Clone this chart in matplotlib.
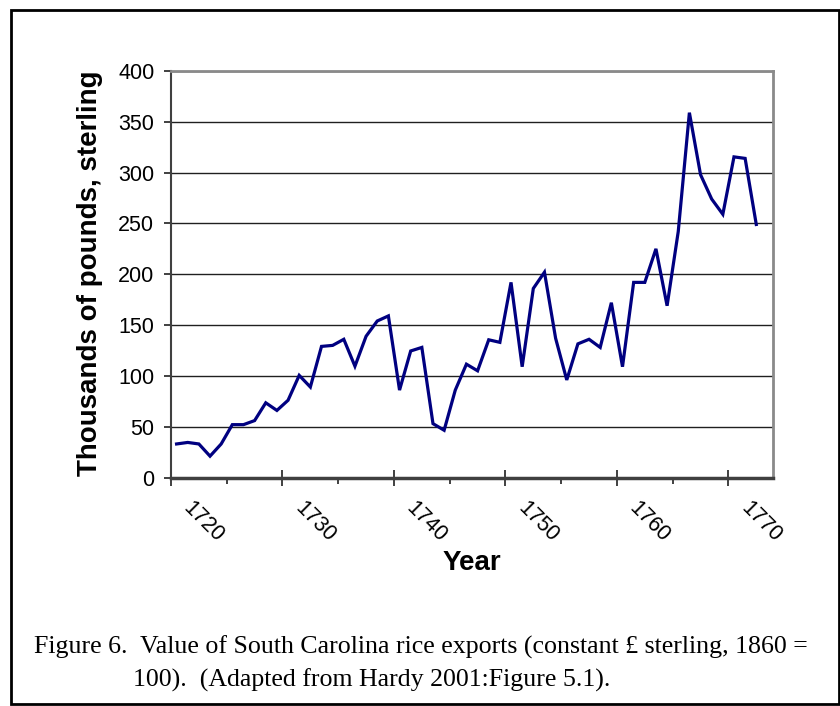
import numpy as np
import matplotlib as mpl
import matplotlib.pyplot as plt
from matplotlib import patches, transforms

# --- data ---
years = np.arange(1720, 1773)
values = [33, 34.5, 33, 21, 33, 52, 52, 56, 73.5, 66,
          76, 100.5, 89, 129, 130, 136, 109.5, 139, 154, 159,
          86, 124.5, 128, 53, 46.5, 86, 111.5, 105, 135.5, 133,
          192, 109, 186, 202, 137, 96, 131.5, 136, 128, 172,
          109, 192, 192, 225, 169, 242, 359, 298, 274, 259,
          315.5, 314, 249]
xtick_labels = ['1720', '1730', '1740', '1750', '1760', '1770']
yticks = [0, 50, 100, 150, 200, 250, 300, 350, 400]

caption1 = 'Figure 6.  Value of South Carolina rice exports (constant \u00a3 sterling, 1860 ='
caption2 = '100).  (Adapted from Hardy 2001:Figure 5.1).'

mpl.rc('font', family=['Liberation Sans', 'DejaVu Sans'])

W, H = 840, 706
fig = plt.figure(figsize=(W / 100, H / 100), dpi=100)
ax = fig.add_axes([171 / W, 1 - 477.5 / H, 602 / W, 406.5 / H])

ax.plot(years, values, color='#000080', lw=2.3, solid_joinstyle='miter')

ax.set_xlim(1719.5, 1773.5)
ax.set_ylim(0, 400)
ax.set_yticks(yticks)
ax.yaxis.grid(True, color='#202020', lw=1)
ax.set_axisbelow(True)

# category axis: major ticks every 10, minor every 5, at category edges
ax.set_xticks(np.arange(1719.5, 1770, 10))
ax.set_xticklabels(xtick_labels, rotation=-45, ha='left', va='top',
                   rotation_mode='anchor')
ax.set_xticks(np.arange(1724.5, 1770, 10), minor=True)
ax.tick_params(axis='x', which='major', direction='inout', length=11,
               width=1.2, color='#202020', labelsize=15.5, pad=9)
ax.tick_params(axis='x', which='minor', direction='out', length=4.5,
               width=1.2, color='#202020')
ax.tick_params(axis='y', direction='out', length=5, width=1.2,
               color='#202020', labelsize=15.5, pad=7)
shift = transforms.ScaledTranslation(0.23, 0, fig.dpi_scale_trans)
for lab in ax.get_xticklabels():
    lab.set_transform(lab.get_transform() + shift)

for s in ['top', 'right']:
    ax.spines[s].set_color('#8a8a8a')
    ax.spines[s].set_linewidth(2)
ax.spines['left'].set_color('#404040')
ax.spines['left'].set_linewidth(1.5)
ax.spines['bottom'].set_color('#404040')
ax.spines['bottom'].set_linewidth(2.5)

fig.text(90 / W, 1 - 273 / H, 'Thousands of pounds, sterling', rotation=90,
         ha='center', va='center', fontsize=20, fontweight='bold')
fig.text(472 / W, 1 - 563 / H, 'Year', ha='center', va='center',
         fontsize=20, fontweight='bold')

fig.text(34 / W, 1 - 654 / H, caption1, ha='left', va='baseline',
         fontsize=18.6, family='Liberation Serif')
fig.text(133 / W, 1 - 687 / H, caption2, ha='left', va='baseline',
         fontsize=18.6, family='Liberation Serif')

# outer frame round the figure
frame = patches.Rectangle((11 / W, 1 - 704 / H), 828 / W, 694 / H,
                          transform=fig.transFigure, fill=False,
                          edgecolor='black', lw=2)
fig.patches.append(frame)

fig.savefig('out.png', dpi=100)
